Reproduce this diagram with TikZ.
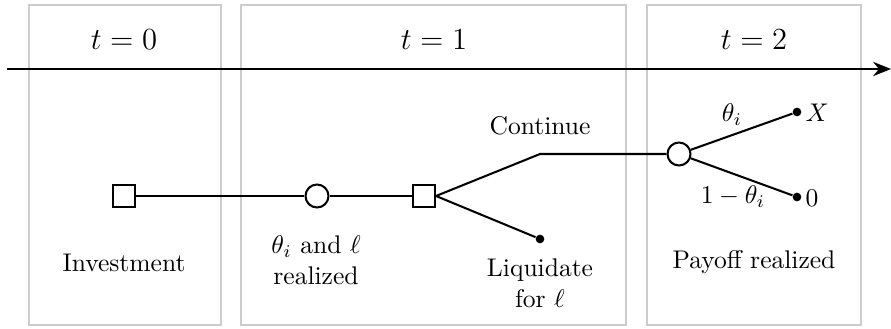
\documentclass[tikz,border=0pt]{standalone}
\usetikzlibrary{arrows.meta}
\begin{document}
\begin{tikzpicture}[x=0.3915pt,y=-0.3915pt,
  period/.style={draw=black!20, line width=1pt},
  sqnode/.style={draw, fill=white, minimum size=8.6pt, inner sep=0pt, line width=0.8pt},
  chnode/.style={draw, fill=white, circle, minimum size=9pt, inner sep=0pt, line width=0.8pt},
  endnode/.style={fill, circle, minimum size=3.4pt, inner sep=0pt},
  edge/.style={line width=0.8pt},
  lbl/.style={align=center, inner sep=0pt},
  ttl/.style={font=\large, inner sep=0pt}]
\useasboundingbox (0,0) rectangle (891,329);
% period boxes
\draw[period] (29,5) rectangle (221,325);
\draw[period] (241,5) rectangle (626,325);
\draw[period] (647,5) rectangle (861,325);
% titles
\node[ttl] (t0) at (124,40) {$t=0$};
\node[ttl] (t1) at (434,40) {$t=1$};
\node[ttl] (t2) at (754,40) {$t=2$};
% time axis
\coordinate (axs) at (7,69);
\coordinate (axe) at (891,69);
\draw[edge, -{Stealth[length=7pt,width=5.6pt]}] (axs) -- (axe);
% tree nodes
\node[sqnode] (inv) at (124,196) {};
\node[chnode] (real) at (317,196) {};
\node[sqnode] (dec) at (424,196) {};
\coordinate (cont) at (540,154);
\node[endnode] (liq) at (540,239) {};
\node[chnode] (pay) at (679,154) {};
\node[endnode] (xx) at (797,112) {};
\node[endnode] (zz) at (797,197) {};
% edges
\draw[edge] (inv) -- (real);
\draw[edge] (real) -- (dec);
\draw[edge] (dec.east) -- (cont) -- (pay);
\draw[edge] (dec.east) -- (liq);
\draw[edge] (pay) -- (xx);
\draw[edge] (pay) -- (zz);
% labels
\node[lbl] (linv) at (124,263) {Investment};
\node[lbl] (lreal) at (316,260) {$\theta_i$ and $\ell$\\realized};
\node[lbl] (lcont) at (540,126) {Continue};
\node[lbl] (lliq) at (540,283) {Liquidate\\for $\ell$};
\node[lbl] (lpay) at (754,262) {Payoff realized};
\node[lbl] (lth) at (732,115) {$\theta_i$};
\node[lbl] (lmth) at (733,197) {$1-\theta_i$};
\node[lbl, anchor=west] (lx) at (805,113) {$X$};
\node[lbl, anchor=west] (l0) at (805,198) {$0$};
\end{tikzpicture}
\end{document}
